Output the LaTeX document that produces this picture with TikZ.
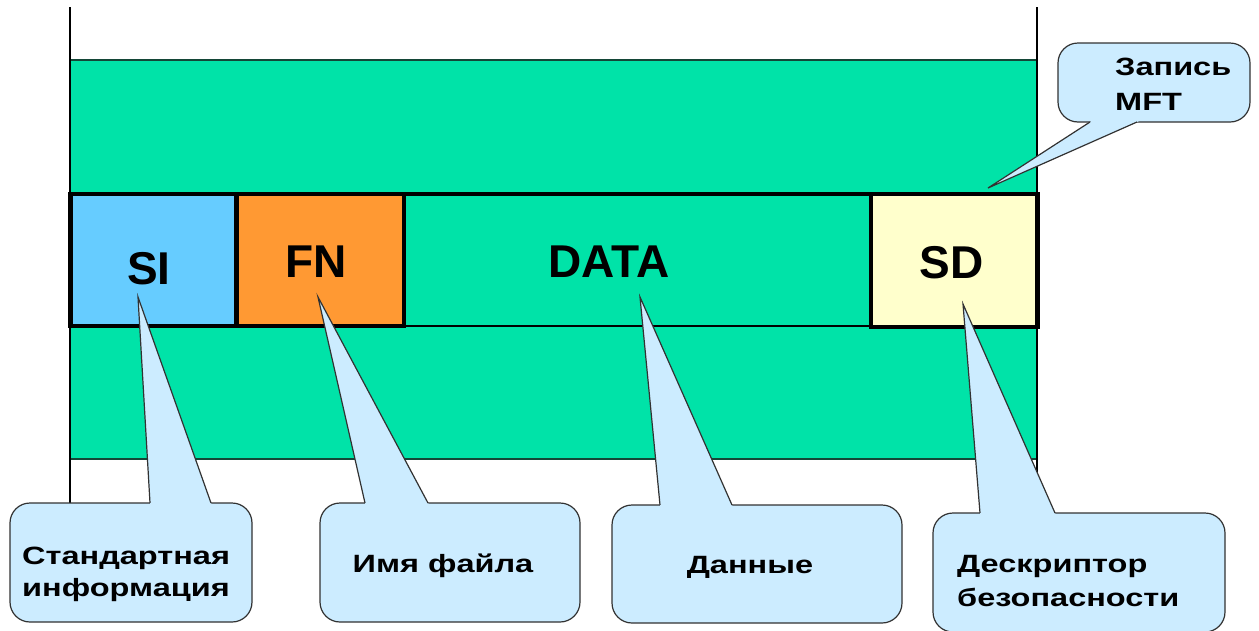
\documentclass[tikz,border=0pt]{standalone}
\usepackage{fontspec}
\setmainfont{Liberation Sans}
\usetikzlibrary{calc}
\definecolor{bandgreen}{RGB}{0,227,168}
\definecolor{bandedge}{RGB}{20,70,55}
\definecolor{siblue}{RGB}{102,204,255}
\definecolor{fnorange}{RGB}{255,153,51}
\definecolor{sdyellow}{RGB}{255,255,204}
\definecolor{bubblefill}{RGB}{204,236,255}
\definecolor{bubbleline}{RGB}{50,50,50}
\tikzset{
  field/.style={draw=black,line width=4.5,line join=miter},
  bigtag/.style={inner sep=0,font=\fontsize{46}{46}\selectfont\bfseries},
  bubbletext/.style={inner sep=0,font=\fontsize{25}{25}\selectfont\bfseries},
}
% rounded speech bubble: left, top, right, bottom, tail base y, tail base x (left, right), tip coordinate
\newcommand{\bubble}[8]{%
  \fill[bubblefill,draw=bubbleline,line width=1.2,rounded corners=20] (#1,#2) rectangle (#3,#4);
  \coordinate (tailL) at (#6,#5);
  \coordinate (tailR) at (#7,#5);
  \fill[bubblefill] ($(#8)!1.03!(tailL)$) -- (#8) -- ($(#8)!1.03!(tailR)$) -- cycle;
  \draw[bubbleline,line width=1.2,line join=miter] (tailL) -- (#8) -- (tailR);
}
\newcommand{\wide}[1]{\scalebox{1.3}[1]{#1}}
\begin{document}
\begin{tikzpicture}[x=1pt,y=-1pt]
\useasboundingbox (0,0) rectangle (1259,630);
\begin{scope}
\clip (0,0) rectangle (1259,630);
% MFT band
\fill[bandgreen] (70,60) rectangle (1037,459);
\draw[bandedge,line width=1.5] (70,60) -- (1037,60);
\draw[bandedge,line width=1.5] (70,459) -- (1037,459);
\draw[black,line width=1.3] (70,7) -- (70,504);
\draw[black,line width=1.3] (1037,7) -- (1037,505);
% record fields
\draw[black,line width=2] (404,325.5) -- (871,325.5);
\draw[black,line width=4.5] (404,194) -- (871,194);
\filldraw[field,fill=siblue] (70.5,194) rectangle (236.5,326);
\filldraw[field,fill=fnorange] (236.5,194) rectangle (404,326);
\filldraw[field,fill=sdyellow] (871,194) rectangle (1037.5,327);
\node[bigtag] (si) at (149,268.5) {SI};
\node[bigtag] (fn) at (316,262) {FN};
\node[bigtag] (data) at (609,262) {DATA};
\node[bigtag] (sd) at (951.5,262.5) {SD};
% pointer tips
\coordinate (tipSI) at (138,297);
\coordinate (tipFN) at (318,297);
\coordinate (tipDATA) at (640,297);
\coordinate (tipSD) at (963,304);
\coordinate (tipMFT) at (988,188);
% speech bubbles
\bubble{10}{503}{252}{622}{503}{150}{211}{tipSI}
\bubble{320}{503}{580}{622}{503}{365}{428}{tipFN}
\bubble{612}{505}{902}{623}{505}{660}{732}{tipDATA}
\bubble{933}{513}{1225}{632}{513}{980}{1055}{tipSD}
\bubble{1058}{43}{1250}{122}{122}{1090}{1137}{tipMFT}
\node[bubbletext,anchor=base west] (si1) at (22,564) {\wide{Стандартная}};
\node[bubbletext,anchor=base west] (si2) at (22,596) {\wide{информация}};
\node[bubbletext,anchor=base] (fnt) at (443,572) {\wide{Имя файла}};
\node[bubbletext,anchor=base] (datat) at (750,573) {\wide{Данные}};
\node[bubbletext,anchor=base west] (sd1) at (957,572) {\wide{Дескриптор}};
\node[bubbletext,anchor=base west] (sd2) at (957,606) {\wide{безопасности}};
\node[bubbletext,anchor=base west] (mft1) at (1115,75) {\wide{Запись}};
\node[bubbletext,anchor=base west] (mft2) at (1115,110) {\wide{MFT}};
\end{scope}
\end{tikzpicture}
\end{document}
